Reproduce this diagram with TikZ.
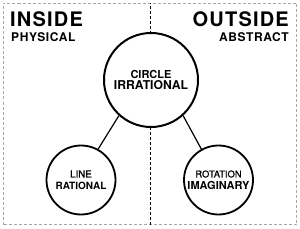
\documentclass[tikz,border=0pt]{standalone}
\usepackage{fontspec}
\setmainfont{TeX Gyre Heros}
\newfontfamily\headfont[LetterSpace=6]{TeX Gyre Heros}
\newfontfamily\subfont[LetterSpace=5]{TeX Gyre Heros}
\newfontfamily\medfont[FakeBold=1.2]{TeX Gyre Heros}
\usetikzlibrary{positioning}
\definecolor{framegray}{HTML}{A8A8A8}
\tikzset{
	framebox/.style={draw=framegray, line width=0.9pt, dash pattern=on 3pt off 2pt}
}
\tikzset{
	middash/.style={draw=black, line width=1.1pt, dash pattern=on 3pt off 2pt}
}
\tikzset{
	bigcirc/.style={circle, draw, fill=white, line width=2pt, minimum size=94pt, inner sep=0pt, align=center},
	smallcirc/.style={circle, draw, fill=white, line width=1.8pt, minimum size=69pt, inner sep=0pt, align=center}
}
\tikzset{
	headtext/.style={font=\headfont\bfseries\fontsize{20}{22}\selectfont, inner sep=0pt},
	subtext/.style={font=\subfont\bfseries\fontsize{12}{14}\selectfont, inner sep=0pt}
}

\begin{document}
\begin{tikzpicture}[x=1pt, y=1pt]

	\useasboundingbox (0,0) rectangle (300,228);

	\draw[framebox] (3.5,3.5) rectangle (296.5,224.5);

	\coordinate (mTop) at (150.5,3.5);
	\coordinate (mBot) at (150.5,224.5);
	\draw[middash] (mTop) -- (mBot);

	% side headings
	\node[headtext, anchor=base west] (inside) at (10,201) {INSIDE};
	\node[subtext, anchor=base west] (physical) at (11,186) {PHYSICAL};
	\node[headtext, anchor=base east] (outside) at (289,201) {OUTSIDE};
	\node[subtext, anchor=base east] (abstract) at (289,186) {ABSTRACT};

	% circles
	\node[bigcirc] (circ) at (151,148)
		{\bfseries\fontsize{11}{14}\selectfont CIRCLE\\[-0.5pt]\bfseries\fontsize{12.2}{14}\selectfont IRRATIONAL};
	\node[smallcirc] (line) at (81,48)
		{\medfont\fontsize{9.7}{12}\selectfont LINE\\\bfseries\fontsize{10}{12}\selectfont RATIONAL};
	\node[smallcirc] (rot) at (218.5,48)
		{\medfont\fontsize{9.4}{12}\selectfont ROTATION\\\bfseries\fontsize{11}{12}\selectfont IMAGINARY};

	\draw[line width=1.2pt] (circ.228) -- (line.61);
	\draw[line width=1.2pt] (circ.312) -- (rot.119);

\end{tikzpicture}
\end{document}
